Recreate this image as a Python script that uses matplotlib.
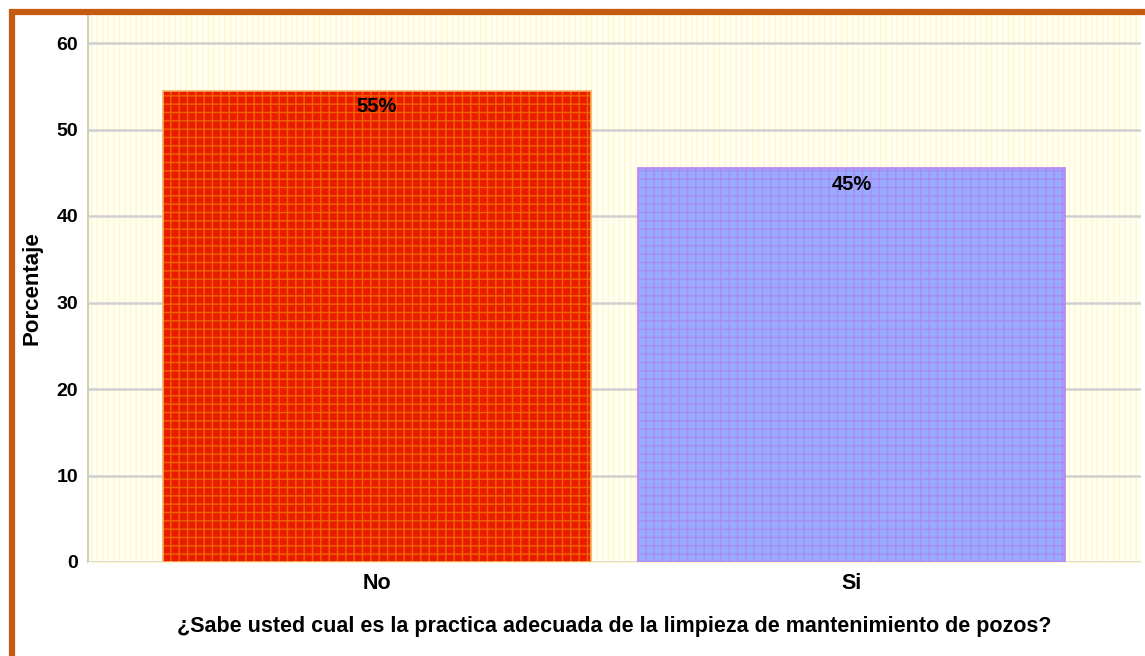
import matplotlib
matplotlib.use("Agg")
import matplotlib.pyplot as plt
from matplotlib.patches import Rectangle

categories = ["No", "Si"]
values = [54.5, 45.5]
labels = ["55%", "45%"]
yticks = [0, 10, 20, 30, 40, 50, 60]
xlabel = "¿Sabe usted cual es la practica adecuada de la limpieza de mantenimiento de pozos?"
ylabel = "Porcentaje"

plt.rcParams['font.family'] = ['Liberation Sans', 'DejaVu Sans']
plt.rcParams['hatch.linewidth'] = 1.0

W, H = 1145, 656
fig = plt.figure(figsize=(W / 100, H / 100), dpi=100)
ax = fig.add_axes([88 / W, 1 - 562 / H, (1141 - 88) / W, (562 - 15) / H])

# striped background
bg = Rectangle((0, 0), 1, 1, transform=ax.transAxes, facecolor='#fffff2',
               edgecolor='#fff6cc', hatch='|||', linewidth=0, zorder=0)
ax.add_patch(bg)
ax.set_facecolor('none')

face = ['#ea1c00', '#9aaaff']
hatchc = ['#f06400', '#a68cf4']
edge = ['#f5b060', '#c080f0']
xs = list(range(len(categories)))
for i, (x, v) in enumerate(zip(xs, values)):
    ax.bar(x, v, width=0.9, color=face[i], edgecolor=hatchc[i], hatch='++',
           linewidth=0, zorder=3)
    ax.bar(x, v, width=0.9, facecolor='none', edgecolor=edge[i], linewidth=1.2, zorder=4)
    ax.text(x, v - 0.8, labels[i], ha='center', va='top', fontsize=14.5,
            fontweight='bold', color='black', zorder=5)

ax.set_xlim(-0.608, 1.609)
ax.set_ylim(0, (562 - 15) / 8.65)
ax.set_yticks(yticks)
ax.set_yticklabels([str(t) for t in yticks], fontsize=14, fontweight='bold')
ax.set_xticks(xs)
ax.set_xticklabels(categories, fontsize=15.5, fontweight='bold')
ax.tick_params(axis='both', length=0)
ax.tick_params(axis='y', pad=7)
ax.tick_params(axis='x', pad=8)
ax.yaxis.grid(True, color='#d0d0d0', linewidth=1.8, zorder=1)
ax.set_axisbelow(True)
for s in ['top', 'right']:
    ax.spines[s].set_visible(False)
ax.spines['bottom'].set_color('#fff6cc')
ax.spines['left'].set_color('#cfcfbc')
ax.spines['left'].set_linewidth(1.5)

ax.set_xlabel(xlabel, fontsize=15.5, fontweight='bold', labelpad=16)
ax.set_ylabel(ylabel, fontsize=16, fontweight='bold', labelpad=10)

# orange frame (top and left edges visible)
frame = Rectangle((11.5 / W, -0.2), 1.5, (1 - 11.5 / H) + 0.2, transform=fig.transFigure,
                  facecolor='none', edgecolor='#c55a11', linewidth=4.5, zorder=10)
fig.add_artist(frame)

fig.savefig("out.png", dpi=100)
